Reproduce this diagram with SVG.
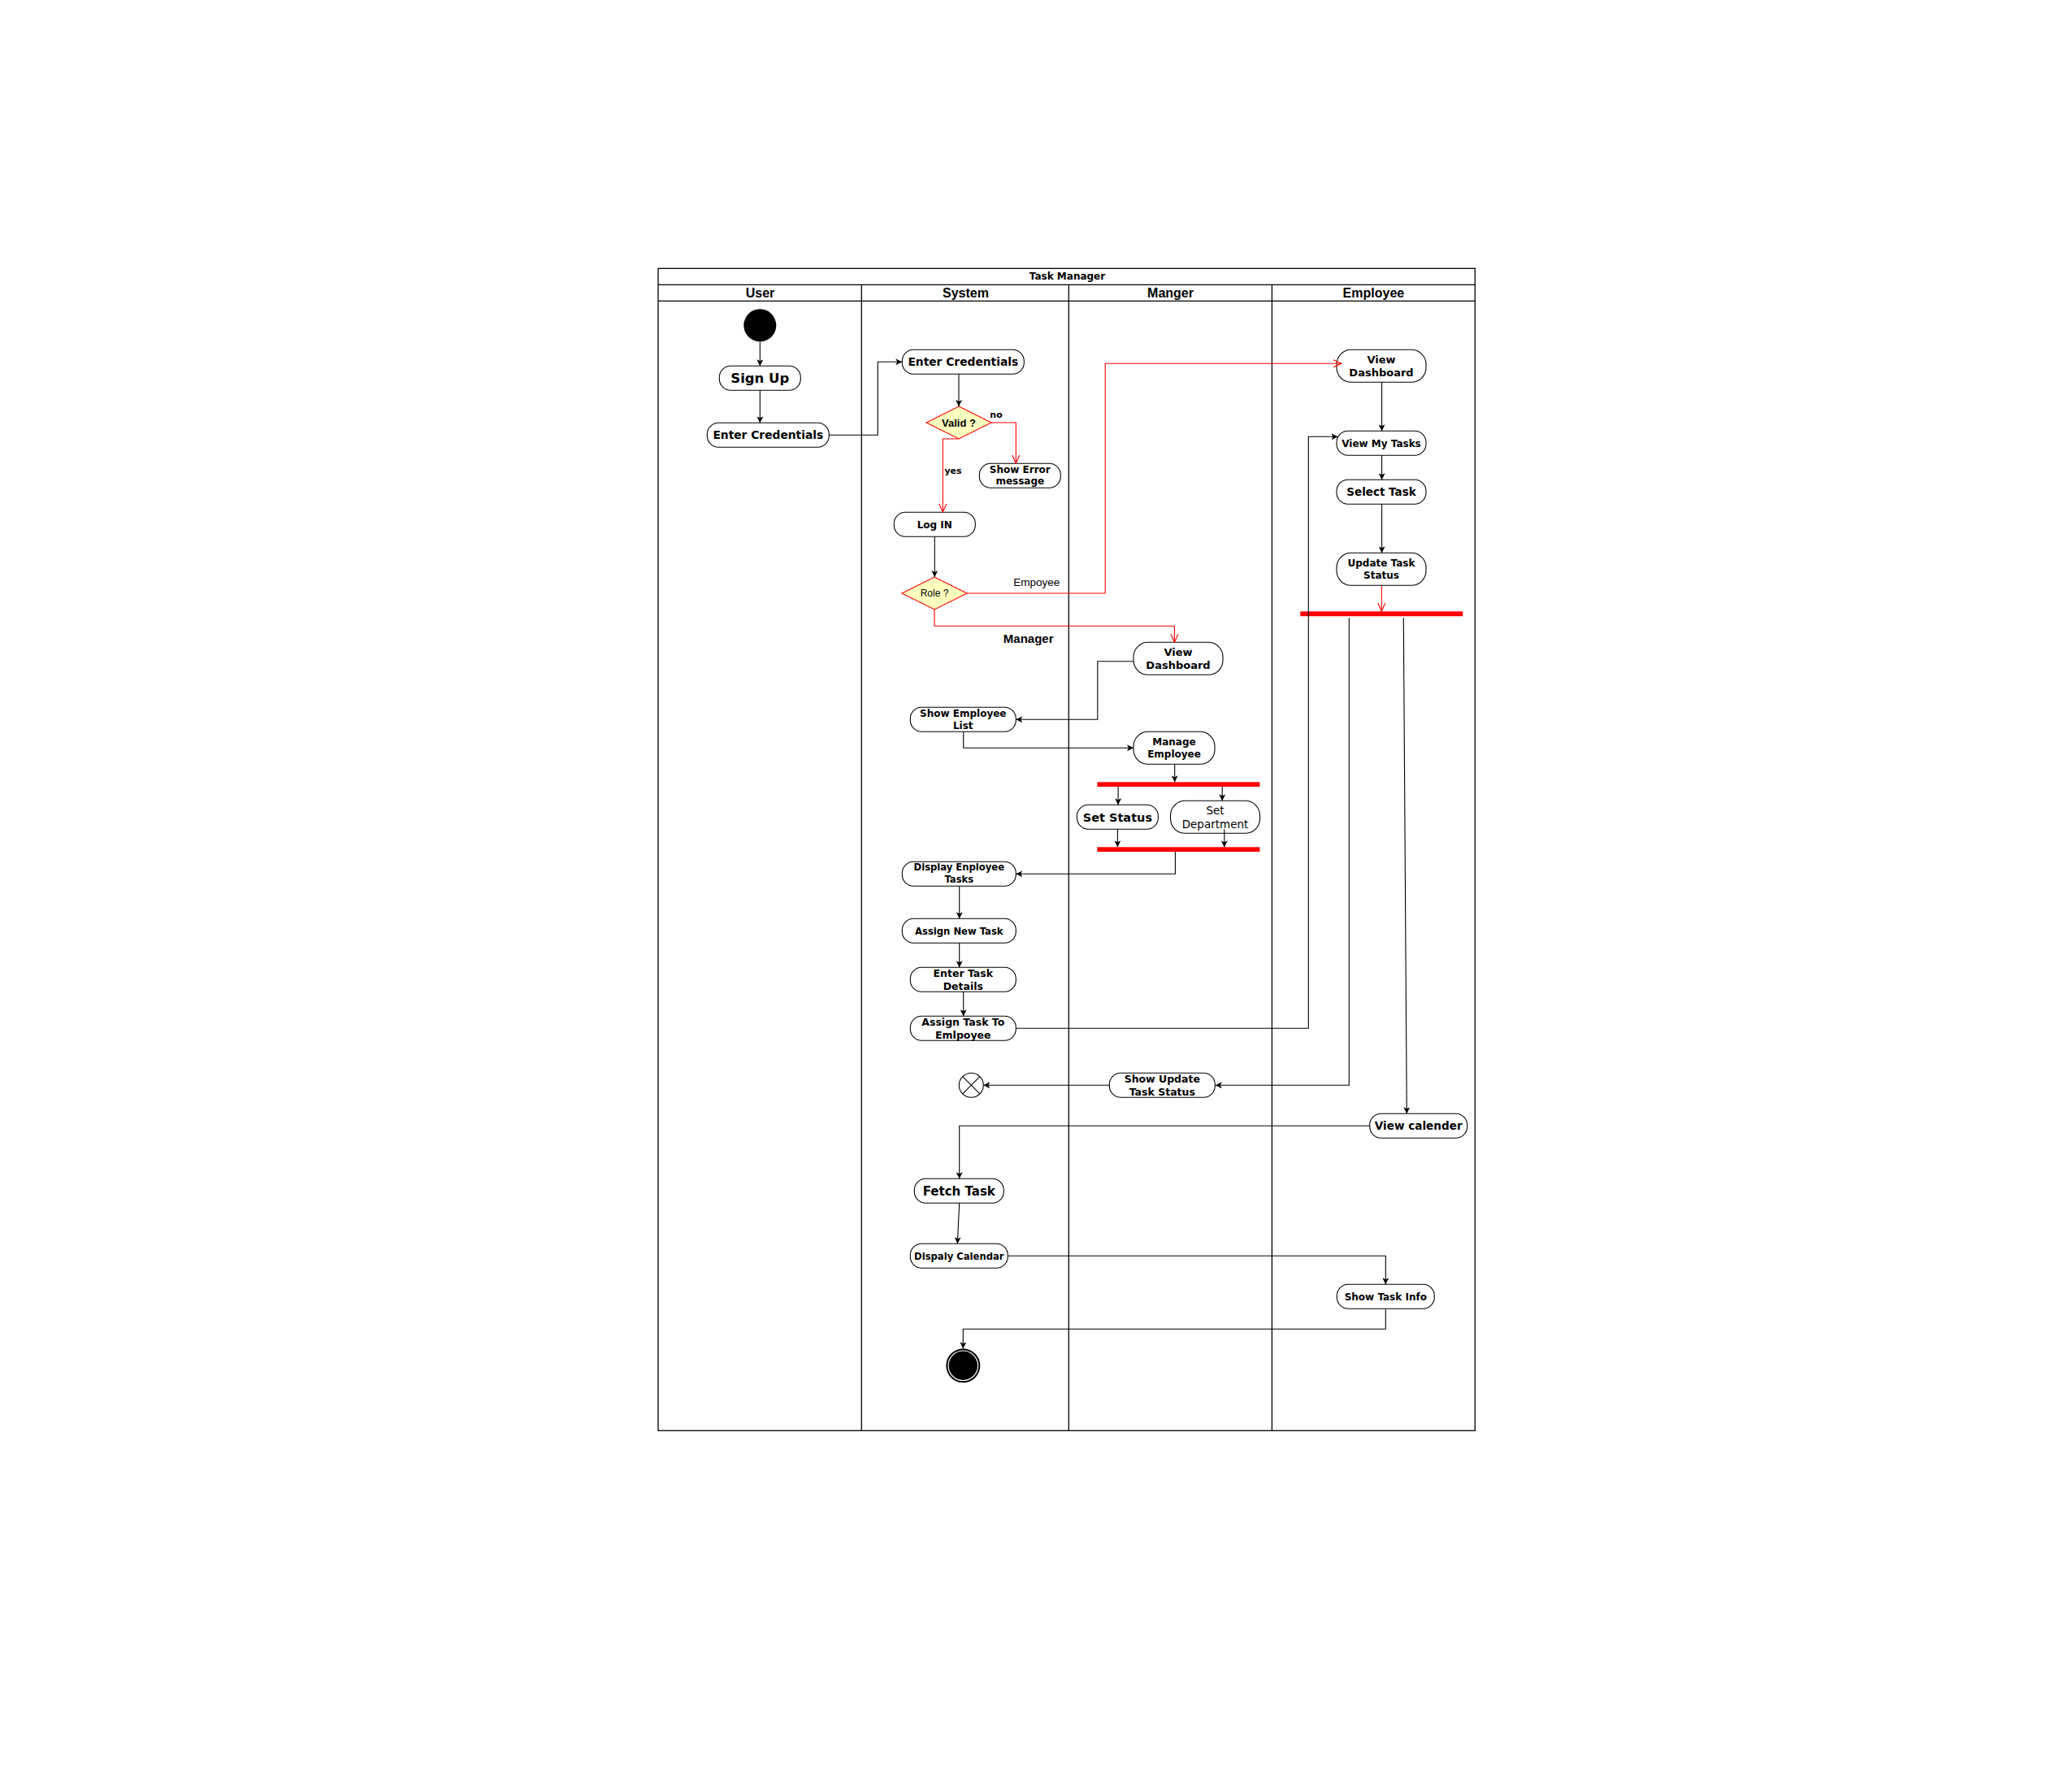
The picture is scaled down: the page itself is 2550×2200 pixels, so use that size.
<svg xmlns="http://www.w3.org/2000/svg" width="2550" height="2200" viewBox="0 0 2550 2200">
<style>
.lane{fill:none;stroke:#000;stroke-width:1.3}
.nd{fill:#fff;stroke:#000;stroke-width:1.1}
.t{font-family:"DejaVu Sans",Verdana,sans-serif;font-weight:bold;text-anchor:middle;fill:#000}
.tn{font-family:"DejaVu Sans",Verdana,sans-serif;text-anchor:middle;fill:#000}
.h{font-family:"Liberation Sans",Arial,sans-serif;font-weight:bold;font-size:16px;text-anchor:middle;fill:#000}
.a{font-family:"Liberation Sans",Arial,sans-serif;fill:#000}
.c{fill:none;stroke:#000;stroke-width:1.1}
.r{fill:none;stroke:#ff0000;stroke-width:1.1}
.bar{fill:#ff0000}
.dia{fill:#ffffc0;stroke:#ff0000;stroke-width:1.1}
</style>
<defs>
<marker id="blk" markerUnits="userSpaceOnUse" viewBox="0 0 8 8" markerWidth="8" markerHeight="8" refX="8" refY="4" orient="auto">
<path d="M0,0 L8,4 L0,8 L2,4 z" fill="#000"/>
</marker>
<marker id="opn" markerUnits="userSpaceOnUse" viewBox="-1 -1 12 11" markerWidth="12" markerHeight="11" refX="10" refY="4.5" orient="auto">
<path d="M0,0 L10,4.5 L0,9" fill="none" stroke="#ff0000" stroke-width="1.1"/>
</marker>
</defs>
<rect width="2550" height="2200" fill="#fff"/>

<g id="pool">
<rect class="lane" x="810" y="330.3" width="1005.3" height="1430"/>
<line class="lane" x1="810" y1="350.3" x2="1815.3" y2="350.3"/>
<line class="lane" x1="810" y1="370.3" x2="1815.3" y2="370.3"/>
<line class="lane" x1="1060.3" y1="350.3" x2="1060.3" y2="1760.3"/>
<line class="lane" x1="1315.3" y1="350.3" x2="1315.3" y2="1760.3"/>
<line class="lane" x1="1565.4" y1="350.3" x2="1565.4" y2="1760.3"/>
<text class="t" x="1313.5" y="344" font-size="12">Task Manager</text>
<text class="h" x="935.5" y="366">User</text>
<text class="h" x="1188.5" y="366">System</text>
<text class="h" x="1440.5" y="366">Manger</text>
<text class="h" x="1690.4" y="366">Employee</text>
</g>

<g id="start"><circle cx="935.3" cy="400.3" r="20" fill="#000"/></g>
<g id="signup"><rect class="nd" x="885.3" y="450.3" width="100" height="30" rx="14"/><text class="t" x="935.3" y="471.3" font-size="16.5">Sign Up</text></g>
<g id="enter-cred-user"><rect class="nd" x="870.3" y="520.3" width="150" height="30" rx="14"/><text class="t" x="945.3" y="540.3" font-size="13.8">Enter Credentials</text></g>
<g id="enter-cred-sys"><rect class="nd" x="1110.3" y="430.3" width="150" height="30" rx="14"/><text class="t" x="1185.3" y="450.3" font-size="13.8">Enter Credentials</text></g>
<g id="valid"><polygon class="dia" points="1180,500 1220,520 1180,540 1140,520"/><text class="a" x="1180" y="524.8" font-size="13" font-weight="bold" text-anchor="middle">Valid ?</text></g>
<g id="show-error"><rect class="nd" x="1205.3" y="570.3" width="100" height="30" rx="14"/><text class="t" x="1255.3" y="581.8" font-size="12">Show Error</text><text class="t" x="1255.3" y="596.3" font-size="12">message</text></g>
<g id="login"><rect class="nd" x="1100.3" y="630.3" width="100" height="30" rx="14"/><text class="t" x="1150.3" y="649.6" font-size="12">Log IN</text></g>
<g id="role"><polygon class="dia" points="1150,710 1190,730 1150,750 1110,730"/><text class="a" x="1150" y="734.3" font-size="12" text-anchor="middle">Role ?</text></g>
<g id="view-dash-mgr"><rect class="nd" x="1395" y="790.3" width="110" height="40" rx="18"/><text class="t" x="1450" y="807" font-size="13">View</text><text class="t" x="1450" y="823" font-size="13">Dashboard</text></g>
<g id="show-emp-list"><rect class="nd" x="1120.3" y="870.3" width="130" height="30" rx="14"/><text class="t" x="1185.3" y="881.6" font-size="12">Show Employee</text><text class="t" x="1185.3" y="896.6" font-size="12">List</text></g>
<g id="manage-emp"><rect class="nd" x="1395" y="900.3" width="100" height="40" rx="18"/><text class="t" x="1445" y="916.6" font-size="12">Manage</text><text class="t" x="1445" y="932" font-size="12">Employee</text></g>
<g id="fork1"><rect class="bar" x="1350.4" y="962.3" width="200" height="5.7"/></g>
<g id="set-status"><rect class="nd" x="1325.4" y="990.3" width="100" height="30" rx="14"/><text class="t" x="1375.4" y="1010.5" font-size="14.5">Set Status</text></g>
<g id="set-dept"><rect class="nd" x="1440.5" y="985.3" width="110" height="40" rx="18"/><text class="tn" x="1495.5" y="1001.9" font-size="13.5">Set</text><text class="tn" x="1495.5" y="1018.9" font-size="13.5">Department</text></g>
<g id="join1"><rect class="bar" x="1350.4" y="1042.3" width="200" height="5.7"/></g>
<g id="display-emp-tasks"><rect class="nd" x="1110.3" y="1060.3" width="140" height="30" rx="14"/><text class="t" x="1180.3" y="1071.4" font-size="11.6">Display Enployee</text><text class="t" x="1180.3" y="1086.4" font-size="11.6">Tasks</text></g>
<g id="assign-new"><rect class="nd" x="1110.3" y="1130.3" width="140" height="30" rx="14"/><text class="t" x="1180.3" y="1149.5" font-size="11.6">Assign New Task</text></g>
<g id="enter-task-details"><rect class="nd" x="1120.3" y="1190.3" width="130" height="30" rx="14"/><text class="t" x="1185.3" y="1201.8" font-size="12.5">Enter Task</text><text class="t" x="1185.3" y="1217.8" font-size="12.5">Details</text></g>
<g id="assign-to-emp"><rect class="nd" x="1120.3" y="1250.3" width="130" height="30" rx="14"/><text class="t" x="1185.3" y="1262.2" font-size="12.5">Assign Task To</text><text class="t" x="1185.3" y="1278.2" font-size="12.5">Emlpoyee</text></g>
<g id="flow-final"><circle cx="1195.3" cy="1335.3" r="15" fill="#fff" stroke="#000" stroke-width="1.1"/><path d="M1184.7,1324.7 L1205.9,1345.9 M1205.9,1324.7 L1184.7,1345.9" stroke="#000" stroke-width="1.1"/></g>
<g id="show-update"><rect class="nd" x="1365.3" y="1320.3" width="130" height="30" rx="14"/><text class="t" x="1430.3" y="1332.2" font-size="12.5">Show Update</text><text class="t" x="1430.3" y="1348.2" font-size="12.5">Task Status</text></g>
<g id="view-calender"><rect class="nd" x="1685.7" y="1370.3" width="120" height="30" rx="14"/><text class="t" x="1745.7" y="1390.2" font-size="13.6">View calender</text></g>
<g id="fetch-task"><rect class="nd" x="1125.3" y="1450.3" width="110" height="30" rx="14"/><text class="t" x="1180.3" y="1470.7" font-size="15">Fetch Task</text></g>
<g id="display-cal"><rect class="nd" x="1120.3" y="1530.3" width="120" height="30" rx="14"/><text class="t" x="1180.3" y="1549.5" font-size="11.6">Dispaly Calendar</text></g>
<g id="show-task-info"><rect class="nd" x="1645.3" y="1580.3" width="120" height="30" rx="14"/><text class="t" x="1705.3" y="1599.6" font-size="12">Show Task Info</text></g>
<g id="end"><circle cx="1185.3" cy="1680.3" r="21" fill="#000"/><circle cx="1185.3" cy="1680.3" r="18.3" fill="#000" stroke="#fff" stroke-width="1.2"/></g>
<g id="view-dash-emp"><rect class="nd" x="1645" y="430.3" width="110" height="40" rx="18"/><text class="t" x="1700" y="447" font-size="13">View</text><text class="t" x="1700" y="463" font-size="13">Dashboard</text></g>
<g id="view-my-tasks"><rect class="nd" x="1645" y="530.3" width="110" height="30" rx="14"/><text class="t" x="1700" y="549.6" font-size="12">View My Tasks</text></g>
<g id="select-task"><rect class="nd" x="1645" y="590.3" width="110" height="30" rx="14"/><text class="t" x="1700" y="610.2" font-size="13.5">Select Task</text></g>
<g id="update-task-status"><rect class="nd" x="1645" y="680.3" width="110" height="40" rx="18"/><text class="t" x="1700" y="697" font-size="12">Update Task</text><text class="t" x="1700" y="711.6" font-size="12">Status</text></g>
<g id="fork-emp"><rect class="bar" x="1600.3" y="752.3" width="200" height="5.9"/></g>

<g id="connectors">
<path class="c" d="M935.3,420.3 V450.3" marker-end="url(#blk)"/>
<path class="c" d="M935.3,480.3 V520.3" marker-end="url(#blk)"/>
<path class="c" d="M1020.3,535.3 H1080.3 V445.3 H1110.3" marker-end="url(#blk)"/>
<path class="c" d="M1180,460.3 V500" marker-end="url(#blk)"/>
<path class="r" d="M1220,520 H1250.3 V570" marker-end="url(#opn)"/>
<path class="r" d="M1180,540 H1160.3 V630" marker-end="url(#opn)"/>
<path class="c" d="M1150.3,660.3 V710" marker-end="url(#blk)"/>
<path class="r" d="M1190,730 H1360.2 V447.3 H1651" marker-end="url(#opn)"/>
<path class="r" d="M1150,750 V770.3 H1445.4 V790.3" marker-end="url(#opn)"/>
<path class="c" d="M1395,813.7 H1350.8 V885.3 H1250.3" marker-end="url(#blk)"/>
<path class="c" d="M1185.7,900.3 V920.3 H1395" marker-end="url(#blk)"/>
<path class="c" d="M1445.7,940.3 V962.3" marker-end="url(#blk)"/>
<path class="c" d="M1376.1,968 V990.3" marker-end="url(#blk)"/>
<path class="c" d="M1504.2,968 V985.3" marker-end="url(#blk)"/>
<path class="c" d="M1375.4,1020.3 V1042.3" marker-end="url(#blk)"/>
<path class="c" d="M1506.8,1020.3 V1042.3" marker-end="url(#blk)"/>
<path class="c" d="M1446.4,1048 V1075.3 H1250.3" marker-end="url(#blk)"/>
<path class="c" d="M1180.7,1090.3 V1130.3" marker-end="url(#blk)"/>
<path class="c" d="M1180.7,1160.3 V1190.3" marker-end="url(#blk)"/>
<path class="c" d="M1185.7,1220.3 V1250.3" marker-end="url(#blk)"/>
<path class="c" d="M1250.3,1265.3 H1610.3 V537.3 H1646.5" marker-end="url(#blk)"/>
<path class="c" d="M1700.6,470.3 V530.3" marker-end="url(#blk)"/>
<path class="c" d="M1700.6,560.3 V590.3" marker-end="url(#blk)"/>
<path class="c" d="M1700.6,620.3 V680.3" marker-end="url(#blk)"/>
<path class="r" d="M1700.3,720.3 V752" marker-end="url(#opn)"/>
<path class="c" d="M1660.3,760.3 V1335.3 H1495.8" marker-end="url(#blk)"/>
<path class="c" d="M1727.3,760.3 L1731.3,1370.3" marker-end="url(#blk)"/>
<path class="c" d="M1365.3,1335.3 H1210.3" marker-end="url(#blk)"/>
<path class="c" d="M1685.7,1385.3 H1180.7 V1450.3" marker-end="url(#blk)"/>
<path class="c" d="M1180.7,1480.3 L1178.3,1530.3" marker-end="url(#blk)"/>
<path class="c" d="M1240.3,1545.3 H1705.3 V1580.3" marker-end="url(#blk)"/>
<path class="c" d="M1705.3,1610.3 V1635.3 H1185.3 V1659.3" marker-end="url(#blk)"/>
<text class="t" x="1226" y="514" font-size="11" text-anchor="start">no</text>
<text class="t" x="1173" y="583" font-size="11" text-anchor="start">yes</text>
<text class="a" x="1275.7" y="720.5" font-size="13.5" text-anchor="middle">Empoyee</text>
<text class="a" x="1265.7" y="791.4" font-size="15" font-weight="bold" text-anchor="middle">Manager</text>
</g>
</svg>
